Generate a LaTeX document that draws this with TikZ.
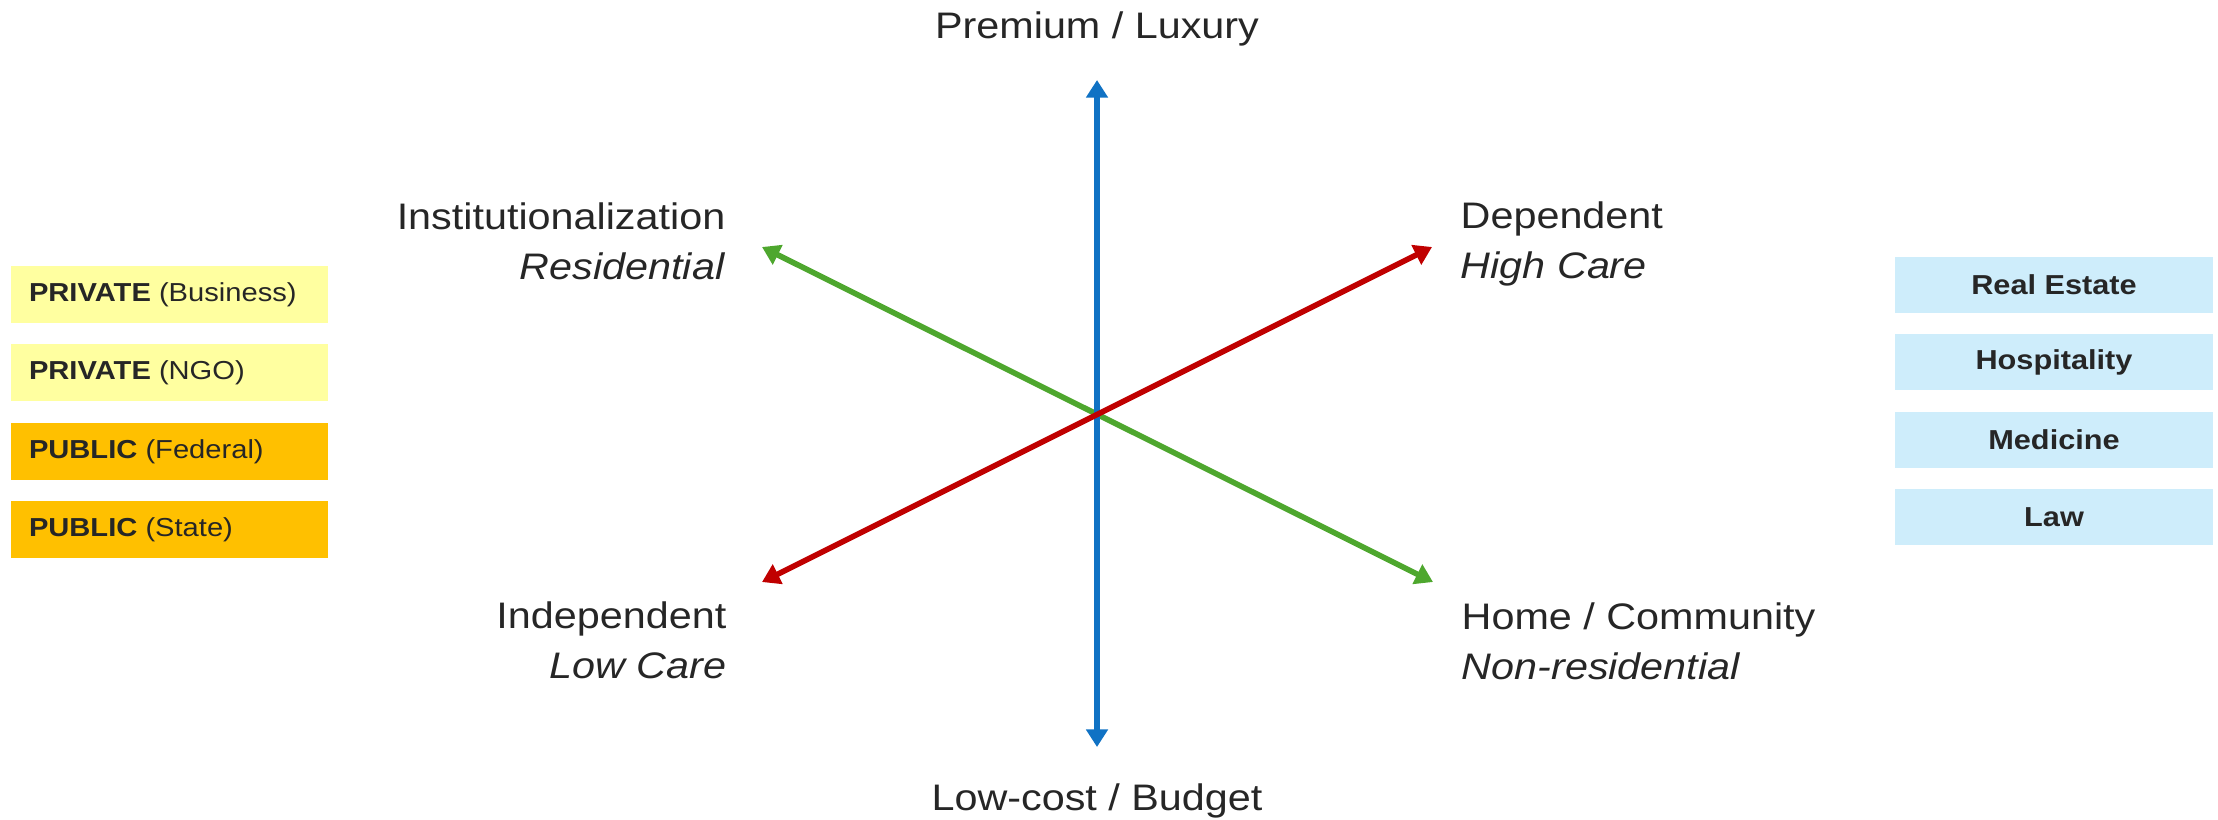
\documentclass[tikz,border=0pt]{standalone}
\usepackage{fontspec}
\setmainfont{Liberation Sans}[FakeStretch=1.12]
\usetikzlibrary{arrows.meta, positioning}
\definecolor{AxisBlue}{RGB}{16, 114, 196}
\definecolor{AxisGreen}{RGB}{78, 167, 46}
\definecolor{AxisRed}{RGB}{192, 0, 0}
\definecolor{PrivYellow}{RGB}{255, 255, 160}
\definecolor{PubGold}{RGB}{255, 192, 0}
\definecolor{FieldBlue}{RGB}{206, 237, 251}

\begin{document}
\begin{tikzpicture}[
        node distance=0.2cm,
        axis/.style={line width=1.6pt, {Triangle[width=6pt, length=5pt]}-{Triangle[width=6pt, length=5pt]}},
        pole/.style={inner sep=0, text=black!85, font=\fontsize{10.5}{14.2}\selectfont},
        sector/.style={rectangle, minimum height=0.57cm, inner xsep=0.18cm, text width=2.81cm, align=flush left, text=black!85, font=\fontsize{7.4}{9}\selectfont},
        field/.style={rectangle, fill=FieldBlue, minimum width=3.18cm, minimum height=0.56cm, text=black!85, font=\fontsize{7.8}{9}\selectfont\bfseries}
    ]
        \useasboundingbox (0, 0) rectangle (22.18, -8.19);

        % Axis ends
        \coordinate (hub) at (10.97, -4.145);
        \coordinate (lux) at (10.97, -0.80);
        \coordinate (bud) at (10.97, -7.47);
        \coordinate (res) at (7.62, -2.47);
        \coordinate (home) at (14.33, -5.82);
        \coordinate (high) at (14.32, -2.47);
        \coordinate (low) at (7.62, -5.82);

        % Axes
        \draw[axis, color=AxisGreen] (res) -- (home);
        \draw[axis, color=AxisBlue] (bud) -- (lux);
        \draw[axis, color=AxisRed] (low) -- (high);

        % Pole labels (base = last line)
        \node[pole, anchor=base] (luxlbl) at (10.97, -0.38) {Premium / Luxury};
        \node[pole, anchor=base] (budlbl) at (10.97, -8.10) {Low-cost / Budget};
        \node[pole, anchor=base east, align=right] (reslbl) at (7.26, -2.79) {Institutionalization\\\textit{Residential}};
        \node[pole, anchor=base west, align=left] (highlbl) at (14.60, -2.78) {Dependent\\\textit{High Care}};
        \node[pole, anchor=base east, align=right] (lowlbl) at (7.27, -6.78) {Independent\\\textit{Low Care}};
        \node[pole, anchor=base west, align=left] (homelbl) at (14.61, -6.79) {Home / Community\\\textit{Non-residential}};

        % Sectors
        \node[sector, fill=PrivYellow] (biz) at (1.695, -2.945) {\textbf{PRIVATE} (Business)};
        \node[sector, fill=PrivYellow, below=of biz] (ngo) {\textbf{PRIVATE} (NGO)};
        \node[sector, fill=PubGold, below=of ngo] (fed) {\textbf{PUBLIC} (Federal)};
        \node[sector, fill=PubGold, below=of fed] (state) {\textbf{PUBLIC} (State)};

        % Fields
        \node[field] (estate) at (20.54, -2.85) {Real Estate};
        \node[field, below=of estate] (hosp) {Hospitality};
        \node[field, below=of hosp] (med) {Medicine};
        \node[field, below=of med] (law) {Law};
    \end{tikzpicture}
\end{document}
